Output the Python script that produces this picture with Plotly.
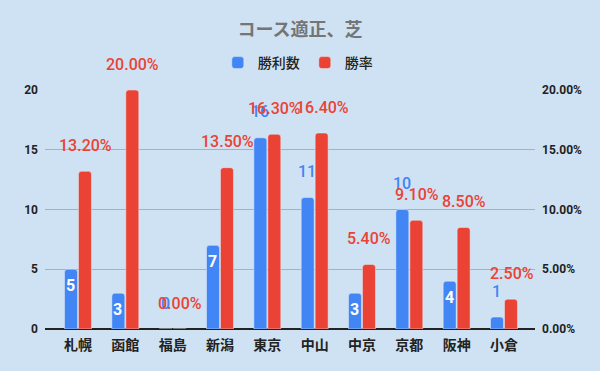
import plotly.graph_objects as go

categories = ["札幌", "函館", "福島", "新潟", "東京", "中山", "中京", "京都", "阪神", "小倉"]
wins = [5, 3, 0, 7, 16, 11, 3, 10, 4, 1]
win_rate = [13.2, 20.0, 0.0, 13.5, 16.3, 16.4, 5.4, 9.1, 8.5, 2.5]
wins_label_inside = [True, True, False, True, False, False, True, False, True, False]
left_ticks = [0, 5, 10, 15, 20]
right_ticks = [0, 5, 10, 15, 20]

BLUE = "#4285F4"
RED = "#EA4335"
BG = "#CFE2F3"
GRID = "#A3B2C1"
FONT = "Roboto, Noto Sans CJK JP, sans-serif"
CJK = "Noto Sans CJK JP, sans-serif"

fig = go.Figure()
fig.add_trace(go.Bar(x=categories, y=wins, name="勝利数", marker_color=BLUE,
                     offsetgroup="a", yaxis="y", hoverinfo="skip"))
fig.add_trace(go.Bar(x=categories, y=win_rate, name="勝率", marker_color=RED,
                     offsetgroup="b", yaxis="y2", hoverinfo="skip"))

annotations = []
# blue labels first (drawn underneath red ones)
for c, v, inside in zip(categories, wins, wins_label_inside):
    annotations.append(dict(
        x=c, y=v, xref="x", yref="y", xshift=-7.5,
        yshift=-16 if inside else 26,
        text=str(v), showarrow=False,
        font=dict(family=FONT, size=16, color="white" if inside else BLUE,
                  weight=700 if inside else 500),
        xanchor="center", yanchor="middle"))
for c, v in zip(categories, win_rate):
    annotations.append(dict(
        x=c, y=v, xref="x", yref="y2", xshift=7.5, yshift=26,
        text=f"{v:.2f}%", showarrow=False,
        font=dict(family=FONT, size=16, color=RED, weight=500),
        xanchor="center", yanchor="middle"))

fig.update_layout(
    width=600, height=371,
    paper_bgcolor=BG, plot_bgcolor=BG,
    margin=dict(l=45, r=65, t=90, b=42, autoexpand=False),
    title=dict(text="コース適正、芝", x=0.5, xref="container", xanchor="center",
               y=1 - 30 / 371, yref="container", yanchor="middle",
               font=dict(family=CJK, size=18, color="#757575", weight="bold")),
    legend=dict(orientation="h", x=0.508, xref="container", xanchor="center",
                y=1 - 63 / 371, yref="container", yanchor="middle",
                font=dict(family=CJK, size=14, color="#222222", weight=500),
                bgcolor="rgba(0,0,0,0)", itemwidth=30, traceorder="normal",
                entrywidth=42, entrywidthmode="pixels"),
    barmode="group", bargap=0.41, bargroupgap=0.07,
    barcornerradius=3,
    showlegend=True,
    annotations=annotations,
    xaxis=dict(type="category", range=[-0.697, 9.655], showgrid=False,
               tickfont=dict(family=CJK, size=14, color="#222222", weight="bold"),
               ticks="", ticklabelstandoff=6, showline=False, fixedrange=True),
    yaxis=dict(range=[0, 20], tickvals=left_ticks, ticktext=[str(t) for t in left_ticks],
               showgrid=True, gridcolor=GRID, gridwidth=1,
               zeroline=True, zerolinecolor="#222222", zerolinewidth=1.5,
               tickfont=dict(family=FONT, size=12, color="#222222", weight="bold"),
               ticks="", ticklabelstandoff=6, showline=False),
    yaxis2=dict(range=[0, 20], overlaying="y", side="right",
                tickvals=right_ticks, ticktext=[f"{t:.2f}%" for t in right_ticks],
                showgrid=False, zeroline=False,
                tickfont=dict(family=FONT, size=12, color="#222222", weight="bold"),
                ticks="", ticklabelstandoff=6, showline=False),
)

fig.write_html(
    "out.html",
    config={"displayModeBar": False},
    post_script="document.body.style.margin='0';document.body.style.padding='0';"
                "document.documentElement.style.margin='0';",
)
